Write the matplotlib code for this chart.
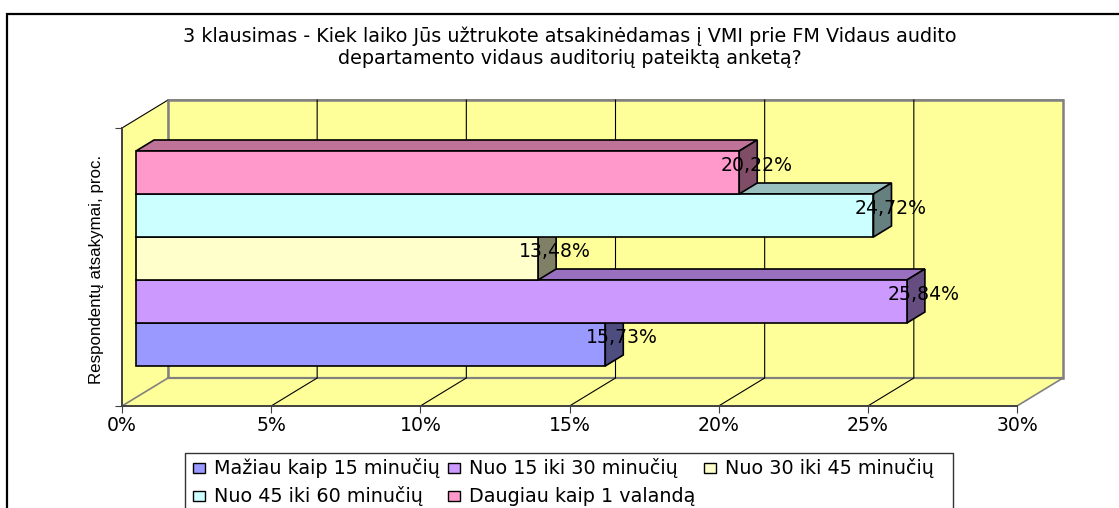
#!/usr/bin/env python3
import matplotlib
matplotlib.use('Agg')
import matplotlib.pyplot as plt
from matplotlib.patches import Polygon, Rectangle

# reference text is a wide, stretched Arial: DejaVu Sans gets the widths right
plt.rcParams['font.family'] = ['DejaVu Sans']

title = '3 klausimas - Kiek laiko Jūs užtrukote atsakinėdamas į VMI prie FM Vidaus audito\ndepartamento vidaus auditorių pateiktą anketą?'
ylabel = 'Respondentų atsakymai, proc.'
categories = ['Mažiau kaip 15 minučių', 'Nuo 15 iki 30 minučių', 'Nuo 30 iki 45 minučių',
              'Nuo 45 iki 60 minučių', 'Daugiau kaip 1 valandą']
values = [15.73, 25.84, 13.48, 24.72, 20.22]
labels = ['15,73%', '25,84%', '13,48%', '24,72%', '20,22%']
colors = ['#9999FF', '#CC99FF', '#FFFFCC', '#CCFFFF', '#FF99CC']
top_colors = ['#7373BF', '#9970BF', '#BFBF99', '#99BFBF', '#BF7399']
side_colors = ['#4D4D80', '#664D80', '#808066', '#668080', '#804D66']
xticks = [0, 5, 10, 15, 20, 25, 30]

W, H = 1119, 508
fig = plt.figure(figsize=(W/100, H/100), dpi=100)

# pixel overlay for the outer frame and legend
bg = fig.add_axes([0, 0, 1, 1])
bg.set_xlim(0, W)
bg.set_ylim(H, 0)
bg.axis('off')
bg.plot([6.5, 6.5, W], [H, 13.5, 13.5], color='black', lw=1.6, solid_joinstyle='miter')
bg.plot([185, 185, 953, 953], [H, 453, 453, H], color='#333333', lw=1)

# legend by hand, the rows are not aligned like a matplotlib legend
leg_x = [193, 448, 704, 193, 448]
leg_y = [468, 468, 468, 496, 496]
for x, y, c, name in zip(leg_x, leg_y, colors, categories):
    bg.add_patch(Rectangle((x, y-5), 12, 10, fc=c, ec='black', lw=1))
    bg.text(x+21, y, name, fontsize=13.8, va='center', ha='left', color='black')

bg.text(570, 47.5, title, fontsize=13.8, ha='center', va='center', linespacing=1.22, color='black')
bg.text(96, 269, ylabel, fontsize=12.2, rotation=90, ha='center', va='center', color='black',
        family='Liberation Sans')

# front plane of the chart: 0-30% is 122-1017 px, bars are 43 px high
ax = fig.add_axes([122/W, 1-406/H, 895/W, 278/H])
ax.set_xlim(0, 30)
ax.set_ylim(0, 278/43)
ax.patch.set_alpha(0)
px = 30/895
py = 1/43
wall_dx = 46*px
wall_dy = 28*py
bar_dx = 18*px
bar_dy = 11*py
bar_x0 = 14*px
bar_y0 = 40*py
top = 278/43

# walls and floor
wall = '#FFFF99'
edge = '#808080'
ax.add_patch(Polygon([(wall_dx, wall_dy), (30+wall_dx, wall_dy), (30+wall_dx, top+wall_dy), (wall_dx, top+wall_dy)],
                     fc=wall, ec=edge, lw=1.8, clip_on=False, zorder=1))
ax.add_patch(Polygon([(0, 0), (wall_dx, wall_dy), (wall_dx, top+wall_dy), (0, top)],
                     fc=wall, ec='none', clip_on=False, zorder=1))
ax.add_patch(Polygon([(0, 0), (30, 0), (30+wall_dx, wall_dy), (wall_dx, wall_dy)],
                     fc=wall, ec='none', clip_on=False, zorder=1))
ax.plot([wall_dx, 30+wall_dx], [wall_dy, wall_dy], color=edge, lw=1.6, clip_on=False, zorder=2)
ax.plot([wall_dx, wall_dx], [wall_dy, top+wall_dy], color=edge, lw=1.2, clip_on=False, zorder=2)
ax.plot([0, wall_dx], [0, wall_dy], color=edge, lw=1.2, clip_on=False, zorder=2)
ax.plot([30, 30+wall_dx], [0, wall_dy], color=edge, lw=1.2, clip_on=False, zorder=2)
ax.plot([0, wall_dx], [top, top+wall_dy], color='black', lw=0.8, clip_on=False, zorder=2)
ax.plot([wall_dx, 30+wall_dx], [top+wall_dy, top+wall_dy], color=edge, lw=1.2, clip_on=False, zorder=2)

for t in xticks[1:-1]:
    ax.plot([t, t+wall_dx, t+wall_dx], [0, wall_dy, top+wall_dy], color='black', lw=0.8, clip_on=False, zorder=2)

# bars, lowest first so the upper front covers the lower top face
for i, v in enumerate(values):
    y = bar_y0 + i
    x1 = bar_x0 + v
    z = 3 + i*0.1
    ax.barh(y, v, height=1, left=bar_x0, align='edge', color=colors[i], edgecolor='black', lw=1.2, zorder=z, clip_on=False)
    ax.add_patch(Polygon([(bar_x0, y+1), (x1, y+1), (x1+bar_dx, y+1+bar_dy), (bar_x0+bar_dx, y+1+bar_dy)],
                         fc=top_colors[i], ec='black', lw=1.2, zorder=z-0.05, clip_on=False))
    ax.add_patch(Polygon([(x1, y), (x1+bar_dx, y+bar_dy), (x1+bar_dx, y+1+bar_dy), (x1, y+1)],
                         fc=side_colors[i], ec='black', lw=1.2, zorder=z-0.05, clip_on=False))

for i, v in enumerate(values):
    ax.text(bar_x0+v+17*px, bar_y0+i+0.5+7*py, labels[i], fontsize=13.6, ha='center', va='center', color='black', zorder=10)

for s in ['top', 'right']:
    ax.spines[s].set_visible(False)
for s in ['left', 'bottom']:
    ax.spines[s].set_color('#404040')
    ax.spines[s].set_linewidth(1.4)
    ax.spines[s].set_zorder(2.5)
ax.set_xticks(xticks)
ax.set_xticklabels([f'{t}%' for t in xticks], fontsize=13.6)
ax.set_yticks([0, top])
ax.set_yticklabels([])
ax.tick_params(axis='both', length=5, width=0.8, color='#404040', pad=2)

fig.savefig('out.png', dpi=100)
